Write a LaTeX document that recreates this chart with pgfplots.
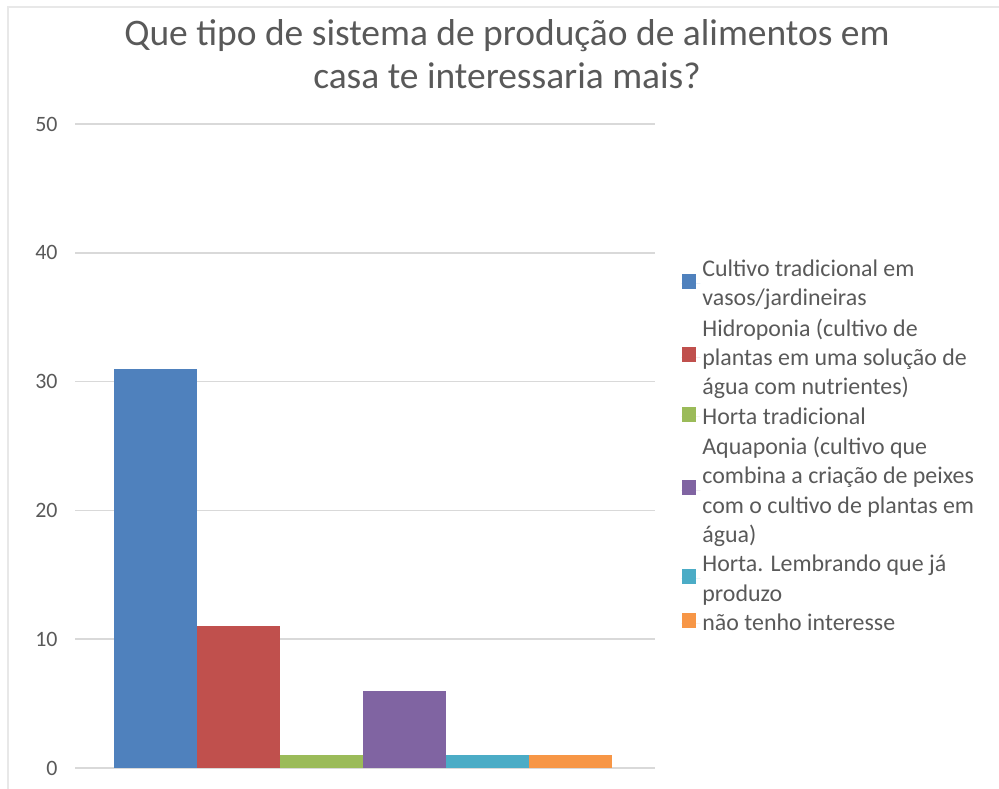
\documentclass[border=0pt]{standalone}
\usepackage{pgfplots}
\pgfplotsset{compat=1.18}
\usepackage{fontspec}
\setmainfont{Carlito}
\definecolor{txt}{RGB}{89,89,89}
\definecolor{gridc}{RGB}{217,217,217}
\definecolor{c1}{HTML}{4F81BD}
\definecolor{c2}{HTML}{C0504D}
\definecolor{c3}{HTML}{9BBB59}
\definecolor{c4}{HTML}{8064A2}
\definecolor{c5}{HTML}{4BACC6}
\definecolor{c6}{HTML}{F79646}
\begin{document}
\begin{tikzpicture}[x=1bp,y=1bp]
\path[use as bounding box] (0,0) rectangle (999,789);
\draw[gridc!60, line width=1.5bp] (8,0) -- (8,782) -- (999,782);
\node[align=center, text=txt, font=\fontsize{37.6}{43}\selectfont] at (507,735) {Que tipo de sistema de produção de alimentos em\\casa te interessaria mais?};
\begin{axis}[
  at={(75bp,21bp)}, anchor=origin,
  scale only axis, width=580bp, height=644bp,
  ybar=0pt, bar width=83bp,
  xmin=0, xmax=1, ymin=0, ymax=50,
  ytick={0,10,...,50},
  xtick=\empty,
  axis line style={draw=none},
  ymajorgrids, grid style={gridc, line width=1.5bp},
  major tick length=0pt,
  tick label style={text=txt, font=\fontsize{22}{24}\selectfont},
  yticklabel style={xshift=-14bp},
  /pgf/number format/assume math mode=true,
  legend style={at={(rel axis cs:1.04,0.5)}, anchor=west, draw=none, fill=none,
    font=\fontsize{24}{29.4}\selectfont, text=txt,
    nodes={align=left}, row sep=7.4bp},
  legend cell align=left,
  legend image code/.code={\fill[#1] (1bp,-5bp) rectangle (15bp,10bp); \path (0bp,0bp) -- (19bp,0bp);},
]
\addplot[fill=c1, draw=none] coordinates {(0.4957,31)};
\addplot[fill=c2, draw=none] coordinates {(0.4957,11)};
\addplot[fill=c3, draw=none] coordinates {(0.4957,1)};
\addplot[fill=c4, draw=none] coordinates {(0.4957,6)};
\addplot[fill=c5, draw=none] coordinates {(0.4957,1)};
\addplot[fill=c6, draw=none] coordinates {(0.4957,1)};
\addlegendentry{Cultivo tradicional em\\vasos/jardineiras}
\addlegendentry{Hidroponia (cultivo de\\plantas em uma solução de\\água com nutrientes)}
\addlegendentry{Horta tradicional}
\addlegendentry{Aquaponia (cultivo que\\combina a criação de peixes\\com o cultivo de plantas em\\água)}
\addlegendentry{Horta. Lembrando que já\\produzo}
\addlegendentry{não tenho interesse}
\end{axis}
\end{tikzpicture}
\end{document}
